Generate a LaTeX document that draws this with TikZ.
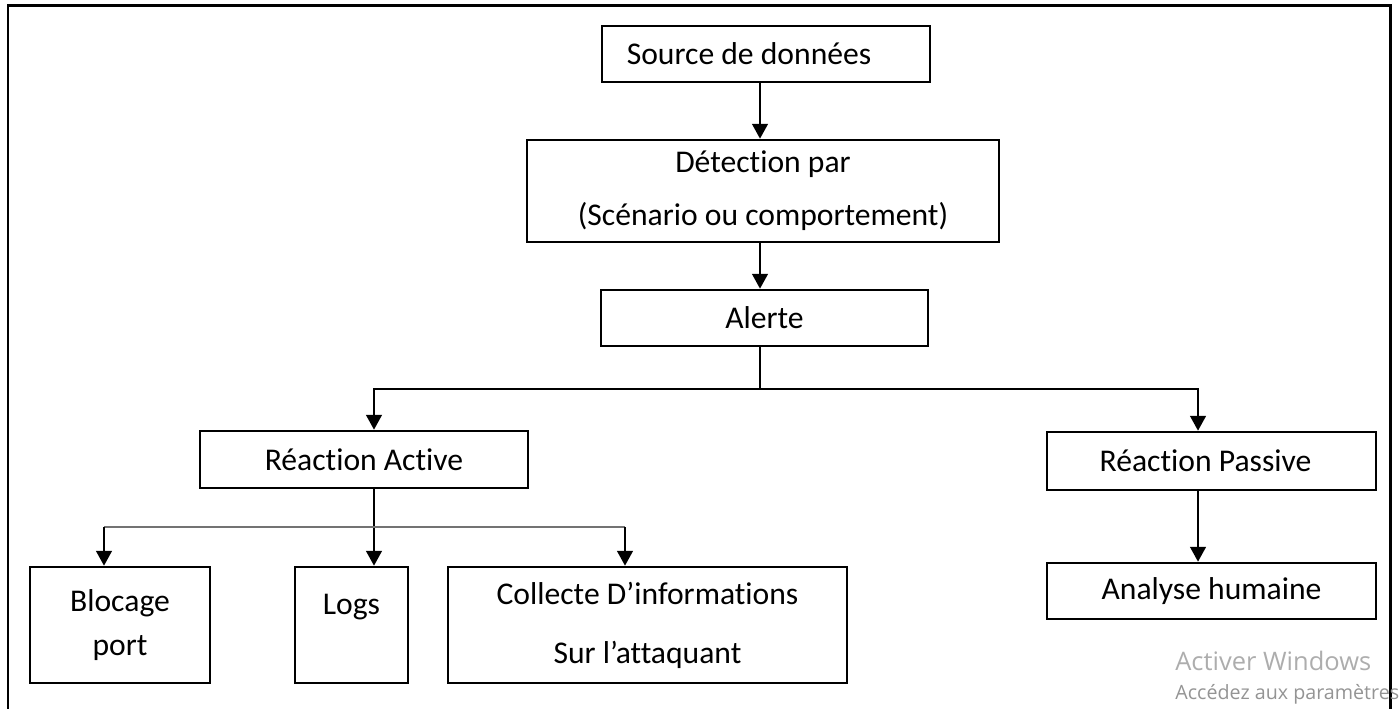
\documentclass[tikz,border=0pt]{standalone}
\usepackage{fontspec}
\setmainfont{Carlito}[Ligatures=NoCommon]
\newfontfamily\wmfont{Open Sans}
\usetikzlibrary{arrows.meta}
\usetikzlibrary{calc}
\usepackage{xcolor}

\newlength\pxu
\setlength\pxu{0.02cm}

\tikzset{
  box/.style={draw, line width=1.5pt, align=center, inner sep=0pt, font=\fontsize{18}{21.6}\selectfont},
  conn/.style={line width=1.2pt},
  arr/.style={line width=1.2pt, -{Triangle[length=8.5pt,width=9pt]}},
  thinconn/.style={line width=0.9pt, black!55},
}

\begin{document}
\begin{tikzpicture}[x=0.02cm,y=-0.02cm]

        \useasboundingbox (0,0) rectangle (1399,708);

        % Frame
        \draw[line width=1.7pt] (8,5) rectangle (1390,740);

        % Boxes
        \node[box, minimum width=328\pxu, minimum height=56\pxu] (src) at (766,54) {Source de données\hspace*{34\pxu}};
        \node[box, minimum width=472\pxu, minimum height=102\pxu] (det) at (763,191) {Détection par\\[8.4pt](Scénario ou comportement)};
        \node[box, minimum width=327\pxu, minimum height=56\pxu] (alert) at (764.5,318) {Alerte};
        \node[box, minimum width=328\pxu, minimum height=57\pxu] (act) at (364,459.5) {Réaction Active};
        \node[box, minimum width=329\pxu, minimum height=58\pxu] (pas) at (1211.5,461) {Réaction Passive\hspace*{12\pxu}};
        \node[box, minimum width=180\pxu, minimum height=116\pxu] (blo) at (120,625) {Blocage\\[3.9pt]port};
        \node[box, minimum width=113\pxu, minimum height=116\pxu] (logs) at (351.5,625) {Logs\\[-4pt]\strut};
        \node[box, minimum width=399\pxu, minimum height=116\pxu] (col) at (647.5,625) {Collecte D’informations\\[11.9pt]Sur l’attaquant};
        \node[box, minimum width=329\pxu, minimum height=56\pxu] (ana) at (1211.5,591) {Analyse humaine};

        % Columns and joints
        \coordinate (mid) at (760,0);
        \coordinate (j1) at (760,389);
        \coordinate (j2) at (374,527);
        \coordinate (cA) at (374,0);
        \coordinate (cB) at (104,0);
        \coordinate (cC) at (625,0);
        \coordinate (cP) at (1198,0);

        % Connectors
        \draw[arr] (mid |- src.south) -- (mid |- det.north);
        \draw[arr] (mid |- det.south) -- (mid |- alert.north);
        \draw[conn] (mid |- alert.south) -- (j1);
        \draw[arr] (j1) -| (cA |- act.north);
        \draw[arr] (j1) -| (cP |- pas.north);
        \draw[arr] (cA |- act.south) -- (cA |- logs.north);
        \draw[thinconn] (cB |- j2) -- (cC |- j2);
        \draw[arr] (cB |- j2) -- (cB |- blo.north);
        \draw[arr] (cC |- j2) -- (cC |- col.north);
        \draw[arr] (cP |- pas.south) -- (cP |- ana.north);

        % Watermark
        \node[anchor=base west, inner sep=0pt, text=black!32, font=\wmfont\fontsize{14.5}{17}\selectfont] (wm1) at (1175,670) {Activer Windows};
        \node[anchor=base west, inner sep=0pt, text=black!42, font=\wmfont\fontsize{11.2}{13}\selectfont] (wm2) at (1175,699) {Accédez aux paramètres};

    \end{tikzpicture}
\end{document}
